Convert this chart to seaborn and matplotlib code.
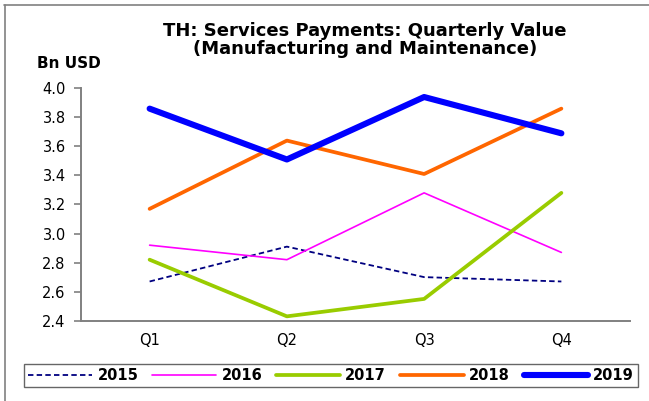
import matplotlib
matplotlib.use("Agg")
import matplotlib.pyplot as plt
import seaborn as sns
import pandas as pd
from matplotlib.lines import Line2D

quarters = ["Q1", "Q2", "Q3", "Q4"]
years = ["2015", "2016", "2017", "2018", "2019"]
v2015 = [2.67, 2.91, 2.70, 2.67]
v2016 = [2.92, 2.82, 3.28, 2.87]
v2017 = [2.82, 2.43, 2.55, 3.28]
v2018 = [3.17, 3.64, 3.41, 3.86]
v2019 = [3.86, 3.51, 3.94, 3.69]
yticks = [2.4, 2.6, 2.8, 3.0, 3.2, 3.4, 3.6, 3.8, 4.0]

series = dict(zip(years, [v2015, v2016, v2017, v2018, v2019]))
rows = []
for y, vals in series.items():
    for q, v in zip(quarters, vals):
        rows.append({"Quarter": q, "Value": v, "Year": y})
df = pd.DataFrame(rows)

colors = {"2015": "#000080", "2016": "#FF00FF", "2017": "#99CC00", "2018": "#FF6600", "2019": "#0000FF"}
widths = {"2015": 1.3, "2016": 1.2, "2017": 2.7, "2018": 2.7, "2019": 4.4}
dashes = {"2015": (3, 1.8), "2016": "", "2017": "", "2018": "", "2019": ""}

sns.set_style("white")
plt.rcParams["font.family"] = ["DejaVu Sans"]
plt.rcParams["text.color"] = "black"
plt.rcParams["xtick.labelcolor"] = "black"
plt.rcParams["ytick.labelcolor"] = "black"

fig = plt.figure(figsize=(6.49, 4.01), dpi=100)
ax = fig.add_axes([81 / 649, 1 - 320.7 / 401, (630 - 81) / 649, (320.7 - 88.3) / 401])

sns.lineplot(data=df, x="Quarter", y="Value", hue="Year", palette=colors,
             size="Year", sizes=widths, style="Year", dashes=dashes,
             ax=ax, legend=False, sort=False)
for ln in ax.lines:
    ln.set_solid_capstyle("round")

ax.set_xlim(-0.5, 3.5)
ax.set_ylim(2.4, 4.0)
ax.set_yticks(yticks)
ax.set_yticklabels([f"{t:.1f}" for t in yticks], fontsize=10.5, color="black")
ax.set_xticks(range(4))
ax.set_xticklabels(quarters, fontsize=10.5, color="black")
ax.set_xticks([-0.5, 0.5, 1.5, 2.5, 3.5], minor=True)
ax.tick_params(axis="x", which="major", length=0, pad=9)
ax.tick_params(axis="x", which="minor", length=4.3, color="#808080", width=1.2, direction="out")
ax.tick_params(axis="y", which="major", length=5, color="#808080", width=1.2, direction="out", pad=6, left=True)
ax.set_xlabel("")
ax.set_ylabel("")
for s in ["top", "right"]:
    ax.spines[s].set_visible(False)
for s in ["left", "bottom"]:
    ax.spines[s].set_color("#808080")
    ax.spines[s].set_linewidth(1.4)

fig.text(365 / 649, 1 - 40 / 401, "TH: Services Payments: Quarterly Value\n(Manufacturing and Maintenance)",
         ha="center", va="center", fontsize=13, fontweight="bold", linespacing=1.05, color="black")
fig.text(37 / 649, 1 - 63 / 401, "Bn USD", ha="left", va="center", fontsize=11, fontweight="bold", color="black")

# outer frame lines (top and left)
fig.add_artist(Line2D([4 / 649, 1], [1 - 4.5 / 401, 1 - 4.5 / 401], color="#808080", lw=1.2))
fig.add_artist(Line2D([4.5 / 649, 4.5 / 649], [0, 1 - 4.5 / 401], color="#808080", lw=1.2))

handles = [Line2D([0], [0], color=colors[y], lw=widths[y],
                  linestyle=(0, (3, 1.8)) if y == "2015" else "-", solid_capstyle="round")
           for y in years]
leg = fig.legend(handles, years, loc="center", ncol=5,
                 bbox_to_anchor=((22 + 640) / 2 / 649, 1 - 375.5 / 401),
                 prop={"weight": "bold", "size": 10.5}, frameon=True, fancybox=False,
                 handlelength=4.4, handletextpad=0.35, columnspacing=0.95,
                 borderpad=0.25, borderaxespad=0, edgecolor="#404040")
leg.get_frame().set_linewidth(1.0)
for t in leg.get_texts():
    t.set_color("black")

fig.savefig("out.png", dpi=100)
